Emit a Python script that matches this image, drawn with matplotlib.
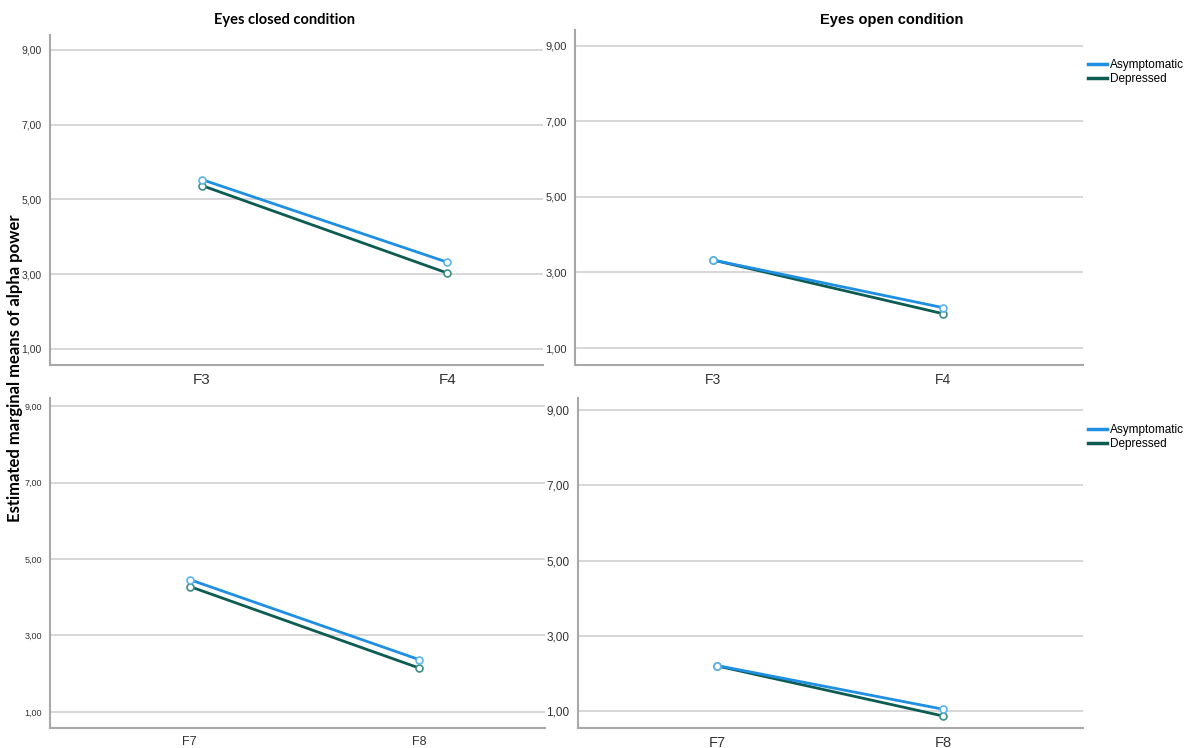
import matplotlib
matplotlib.use("Agg")
import matplotlib.pyplot as plt
from matplotlib.lines import Line2D

# Données
sites_top = ["F3", "F4"]
sites_bottom = ["F7", "F8"]
groups = ["Asymptomatic", "Depressed"]

closed_top_asym = [5.53, 3.32]
closed_top_dep = [5.37, 3.03]
open_top_asym = [3.33, 2.07]
open_top_dep = [3.33, 1.91]
closed_bot_asym = [4.46, 2.37]
closed_bot_dep = [4.28, 2.15]
open_bot_asym = [2.21, 1.05]
open_bot_dep = [2.20, 0.87]

yticks = [1, 3, 5, 7, 9]
ytick_labels = ["1,00", "3,00", "5,00", "7,00", "9,00"]

W, H = 1191, 748
fig = plt.figure(figsize=(W / 100, H / 100), dpi=100)
fig.patch.set_facecolor("white")

c_asym = "#1e8fe3"
c_dep = "#0c5c52"
m_asym = "#5db3ee"
m_dep = "#3d8f85"

narrow = ["Liberation Sans Narrow", "Liberation Sans", "DejaVu Sans"]
arial = ["Liberation Sans", "DejaVu Sans"]
calibri = ["Lato", "DejaVu Sans"]


def panel(x0, x1, ytop, ybot, ylim, xlim, cats, asym, dep,
          yfont, ysize, xfont, xsize):
    ax = fig.add_axes([x0 / W, 1 - ybot / H, (x1 - x0) / W, (ybot - ytop) / H])
    xs = list(range(len(cats)))
    ax.plot(xs, asym, '-', lw=2.0, c=c_asym, marker='o', ms=5,
            mfc='white', mec=m_asym, mew=1.2, zorder=4)
    ax.plot(xs, dep, '-', lw=2.0, c=c_dep, marker='o', ms=5,
            mfc='white', mec=m_dep, mew=1.2, zorder=3)
    ax.set_xlim(*xlim)
    ax.set_ylim(*ylim)
    ax.set_yticks(yticks)
    ax.set_yticklabels(ytick_labels, family=yfont, fontsize=ysize, color="#333333")
    ax.set_xticks(xs)
    ax.set_xticklabels(cats, family=xfont, fontsize=xsize, color="#333333")
    ax.tick_params(axis='both', length=0)
    ax.tick_params(axis='y', pad=6)
    ax.tick_params(axis='x', pad=6)
    ax.grid(axis='y', color="#d4d4d4", lw=1.3)
    ax.set_axisbelow(True)
    for s in ["top", "right"]:
        ax.spines[s].set_visible(False)
    for s in ["left", "bottom"]:
        ax.spines[s].set_color("#a8a8a8")
        ax.spines[s].set_linewidth(1.5)
    return ax


ax_tl = panel(50, 543, 35, 365, (0.57, 9.40), (-0.62, 1.39), sites_top,
              closed_top_asym, closed_top_dep, arial, 7.5, arial, 11)
ax_tr = panel(575, 1083, 30, 365, (0.55, 9.42), (-0.60, 1.61), sites_top,
              open_top_asym, open_top_dep, arial, 8, arial, 10)
ax_bl = panel(50, 545, 398, 728, (0.58, 9.21), (-0.61, 1.55), sites_bottom,
              closed_bot_asym, closed_bot_dep, narrow, 6.5, narrow, 9)
ax_br = panel(578, 1083, 398, 728, (0.55, 9.32), (-0.615, 1.62), sites_bottom,
              open_bot_asym, open_bot_dep, arial, 8.5, arial, 10.5)

# Titres
fig.text(285 / W, 1 - 20 / H, "Eyes closed condition", family=calibri,
         fontsize=10.5, fontweight='bold', ha='center', va='center')
fig.text(892 / W, 1 - 20 / H, "Eyes open condition", family=arial,
         fontsize=10.5, fontweight='bold', ha='center', va='center')
fig.text(15 / W, 1 - 368 / H, "Estimated marginal means of alpha power",
         family=calibri, fontsize=12, fontweight='bold', rotation=90,
         ha='center', va='center')

# Légendes
handles = [Line2D([], [], c=c_asym, lw=2.5), Line2D([], [], c=c_dep, lw=2.5)]
for ytop in (51, 416):
    fig.legend(handles, groups, loc='upper left',
               bbox_to_anchor=(1080 / W, 1 - ytop / H), frameon=False,
               prop={'family': narrow, 'size': 8.5}, handlelength=1.6,
               handletextpad=0.2, labelspacing=0.15, borderpad=0.2)

fig.savefig("out.png", dpi=100)
